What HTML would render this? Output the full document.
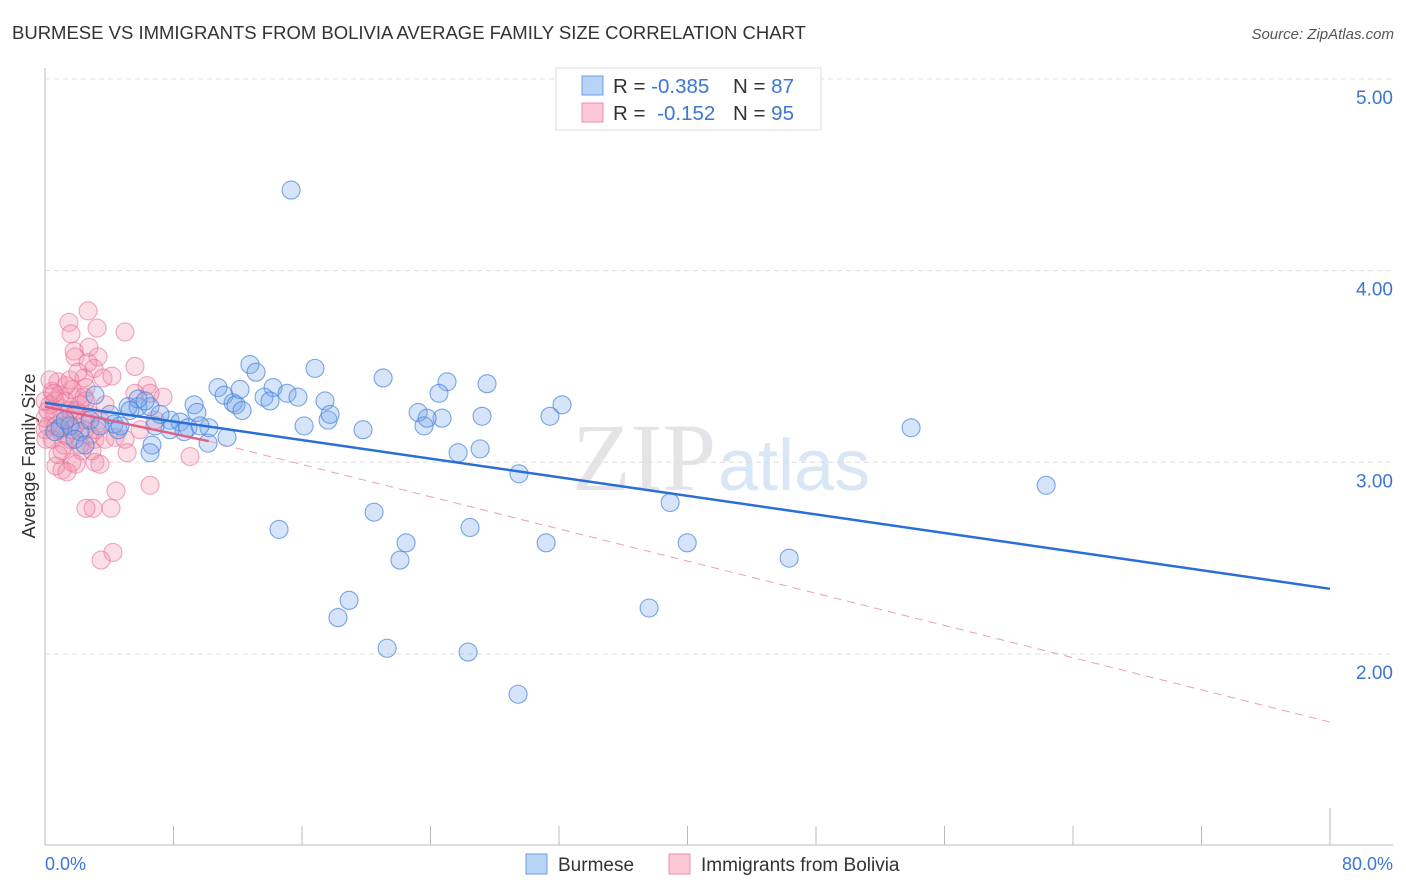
<!DOCTYPE html>
<html><head><meta charset="utf-8"><style>
body{margin:0;background:#fff;font-family:"Liberation Sans",sans-serif;}
svg{display:block}
</style></head><body>
<svg id="chart" width="1406" height="892" xmlns="http://www.w3.org/2000/svg">
<text x="12" y="39" font-size="18.5" fill="#333">BURMESE VS IMMIGRANTS FROM BOLIVIA AVERAGE FAMILY SIZE CORRELATION CHART</text>
<text x="1394" y="39" font-size="15" fill="#555" text-anchor="end" font-style="italic">Source: ZipAtlas.com</text>
<text x="716" y="490" font-size="96" fill="#e4e4e8" text-anchor="end" font-family="Liberation Serif">ZIP</text>
<text x="718" y="490" font-size="72" fill="#d8e6f6">atlas</text>
<g id="grid"></g>
<line x1="45" y1="68" x2="45" y2="845" stroke="#bbb"/>
<line x1="45" y1="845" x2="1393" y2="845" stroke="#bbb"/>
<g id="xticks"></g>
<text x="35" y="456" font-size="18" fill="#333" text-anchor="middle" transform="rotate(-90 35 456)">Average Family Size</text>
<text x="45" y="870" font-size="18" fill="#3b76d4">0.0%</text>
<text x="1393" y="870" font-size="18" fill="#3b76d4" text-anchor="end">80.0%</text>
<g id="pink"></g><g id="blue"></g><g id="trends"></g>
<g>
<rect x="556" y="68" width="265" height="62" fill="#fff" stroke="#ddd"/>
<rect x="582" y="76" width="21" height="19" fill="#b9d3f7" stroke="#6d9de0"/>
<rect x="582" y="103" width="21" height="19" fill="#fcc7d6" stroke="#eb8cab"/>
<text x="613" y="93" font-size="20.5" fill="#333">R = <tspan fill="#3b76d4">-0.385</tspan><tspan x="733">N = </tspan><tspan fill="#3b76d4">87</tspan></text>
<text x="613" y="120" font-size="20.5" fill="#333">R = <tspan fill="#3b76d4" dx="6">-0.152</tspan><tspan x="733">N = </tspan><tspan fill="#3b76d4">95</tspan></text>
</g>
<g>
<rect x="526" y="854" width="21" height="20" fill="#b9d3f7" stroke="#6d9de0"/>
<text x="558" y="871" font-size="19" fill="#333">Burmese</text>
<rect x="669" y="854" width="21" height="20" fill="#fcc7d6" stroke="#eb8cab"/>
<text x="701" y="871" font-size="19" fill="#333">Immigrants from Bolivia</text>
</g>
</svg>
<script>
const yTicks=[2,3,4,5];
const yTickLabels=["2.00","3.00","4.00","5.00"];
const xTicks=[0,8,16,24,32,40,48,56,64,72,80];
const blueX=[15.32,12.76,16.81,13.14,21.05,14.20,10.77,25.03,27.52,24.53,15.07,15.75,13.64,11.15,9.28,11.71,11.89,5.17,5.79,6.54,12.27,17.43,23.23,32.19,9.46,5.79,27.21,31.44,24.72,23.79,23.60,17.62,16.13,19.80,7.78,8.41,8.90,10.21,8.66,4.30,4.55,7.78,6.85,11.33,10.15,6.66,6.54,25.72,27.09,29.51,53.92,62.33,38.92,20.49,14.57,26.46,22.48,31.20,39.98,46.33,22.10,18.93,18.24,37.61,21.30,26.34,29.45,0.93,1.56,2.18,2.80,3.42,0.62,1.25,4.05,3.11,5.29,6.23,1.87,2.49,7.16,9.65,14.01,12.14,17.75,4.67];
const blueY=[4.42,3.51,3.49,3.47,3.44,3.39,3.39,3.42,3.41,3.36,3.36,3.34,3.34,3.35,3.30,3.31,3.30,3.29,3.29,3.29,3.27,3.32,3.26,3.30,3.26,3.33,3.24,3.24,3.23,3.23,3.19,3.22,3.19,3.17,3.22,3.21,3.18,3.18,3.16,3.20,3.17,3.17,3.19,3.13,3.10,3.09,3.05,3.05,3.07,2.94,3.18,2.88,2.79,2.74,2.65,2.66,2.58,2.58,2.58,2.50,2.49,2.28,2.19,2.24,2.03,2.01,1.79,3.18,3.19,3.16,3.22,3.19,3.16,3.22,3.25,3.35,3.27,3.32,3.12,3.09,3.25,3.19,3.32,3.38,3.25,3.19];
const pinkX=[2.68,1.49,3.24,1.62,4.98,2.74,1.81,1.87,3.30,2.68,5.60,3.05,2.43,3.61,6.35,5.60,7.35,6.54,1.06,1.68,2.05,0.44,0.81,1.31,0.62,1.25,1.87,2.49,3.11,0.19,0.31,0.93,1.56,2.18,2.80,3.74,4.36,4.98,3.11,0.68,1.68,1.93,5.11,9.03,1.06,6.54,1.37,2.99,4.11,4.42,2.55,4.23,3.49,6.85,5.92,0,0,0.31,0.93,1.56,2.18,2.80,3.42,0.44,1.18,0.81,3.42,2.55,0,0.06,0.62,1.25,1.87,2.49,3.74,1.68,2.30,2.93,0.19,0.68,1.31,1.93,2.55,3.18,1.06,1.56,2.05,4.17,0.56,2.43];
const pinkY=[3.79,3.73,3.70,3.67,3.68,3.60,3.58,3.55,3.55,3.52,3.50,3.49,3.44,3.44,3.40,3.36,3.34,3.36,3.28,3.38,3.34,3.37,3.42,3.40,3.25,3.22,3.19,3.17,3.12,3.19,3.30,3.17,3.12,3.09,3.14,3.12,3.13,3.12,3.00,2.98,3.00,2.99,3.05,3.03,2.96,2.88,2.95,2.76,2.76,2.85,2.76,2.53,2.49,3.22,3.17,3.23,3.32,3.43,3.35,3.27,3.30,3.25,3.22,3.12,3.09,3.04,2.99,3.39,3.17,3.12,3.32,3.32,3.25,3.22,3.30,3.17,3.06,3.06,3.27,3.19,3.14,3.27,3.32,3.17,3.06,3.43,3.47,3.45,3.36,3.34];
const blueTrend=[[0,3.31],[80,2.34]];
const pinkTrend=[[0,3.29],[10.2,3.11],[80,1.645]];
const NS="http://www.w3.org/2000/svg";
const sx=v=>45+v*(1285/80);
const sy=v=>654-(v-2)*191.7;
function mk(t,p,a){const e=document.createElementNS(NS,t);for(const k in a)e.setAttribute(k,a[k]);p.appendChild(e);return e;}
const grid=document.getElementById('grid');
yTicks.forEach((v,i)=>{
 const l=mk('line',grid,{x1:45,x2:1393,y1:sy(v),y2:sy(v),stroke:'#ddd','stroke-dasharray':'5,4'});
 
 
 const t=mk('text',grid,{x:1393,y:sy(v)+25,'font-size':19,fill:'#3b76d4','text-anchor':'end'});
 t.textContent=yTickLabels[i];
 
 
});
const xt=document.getElementById('xticks');
xTicks.forEach(v=>{
 const l=mk('line',xt,{x1:sx(v),x2:sx(v),y1:v===80?808:826,y2:845,stroke:'#bbb'});
 
 
});
function dots(g,X,Y,fill,stroke,name){
 X.forEach((x,i)=>{
  const c=mk('circle',g,{cx:sx(x),cy:sy(Y[i]),r:9,fill:fill,stroke:stroke,'stroke-width':1.1});
  
  
 });
}
dots(document.getElementById('pink'),pinkX,pinkY,'rgba(242,140,170,0.28)','rgba(232,110,150,0.6)','bolivia-point');
dots(document.getElementById('blue'),blueX,blueY,'rgba(120,165,235,0.3)','rgba(70,130,220,0.7)','burmese-point');
const tr=document.getElementById('trends');
const bl=mk('line',tr,{x1:sx(blueTrend[0][0]),y1:sy(blueTrend[0][1]),x2:sx(blueTrend[1][0]),y2:sy(blueTrend[1][1]),stroke:'#2a6fd6','stroke-width':2.5});


const ps=mk('line',tr,{x1:sx(pinkTrend[0][0]),y1:sy(pinkTrend[0][1]),x2:sx(pinkTrend[1][0]),y2:sy(pinkTrend[1][1]),stroke:'#e0608a','stroke-width':2.5});


const pd=mk('line',tr,{x1:sx(pinkTrend[1][0]),y1:sy(pinkTrend[1][1]),x2:sx(pinkTrend[2][0]),y2:sy(pinkTrend[2][1]),stroke:'#e7a0b8','stroke-width':1,'stroke-dasharray':'8,6'});


</script>
</body></html>
